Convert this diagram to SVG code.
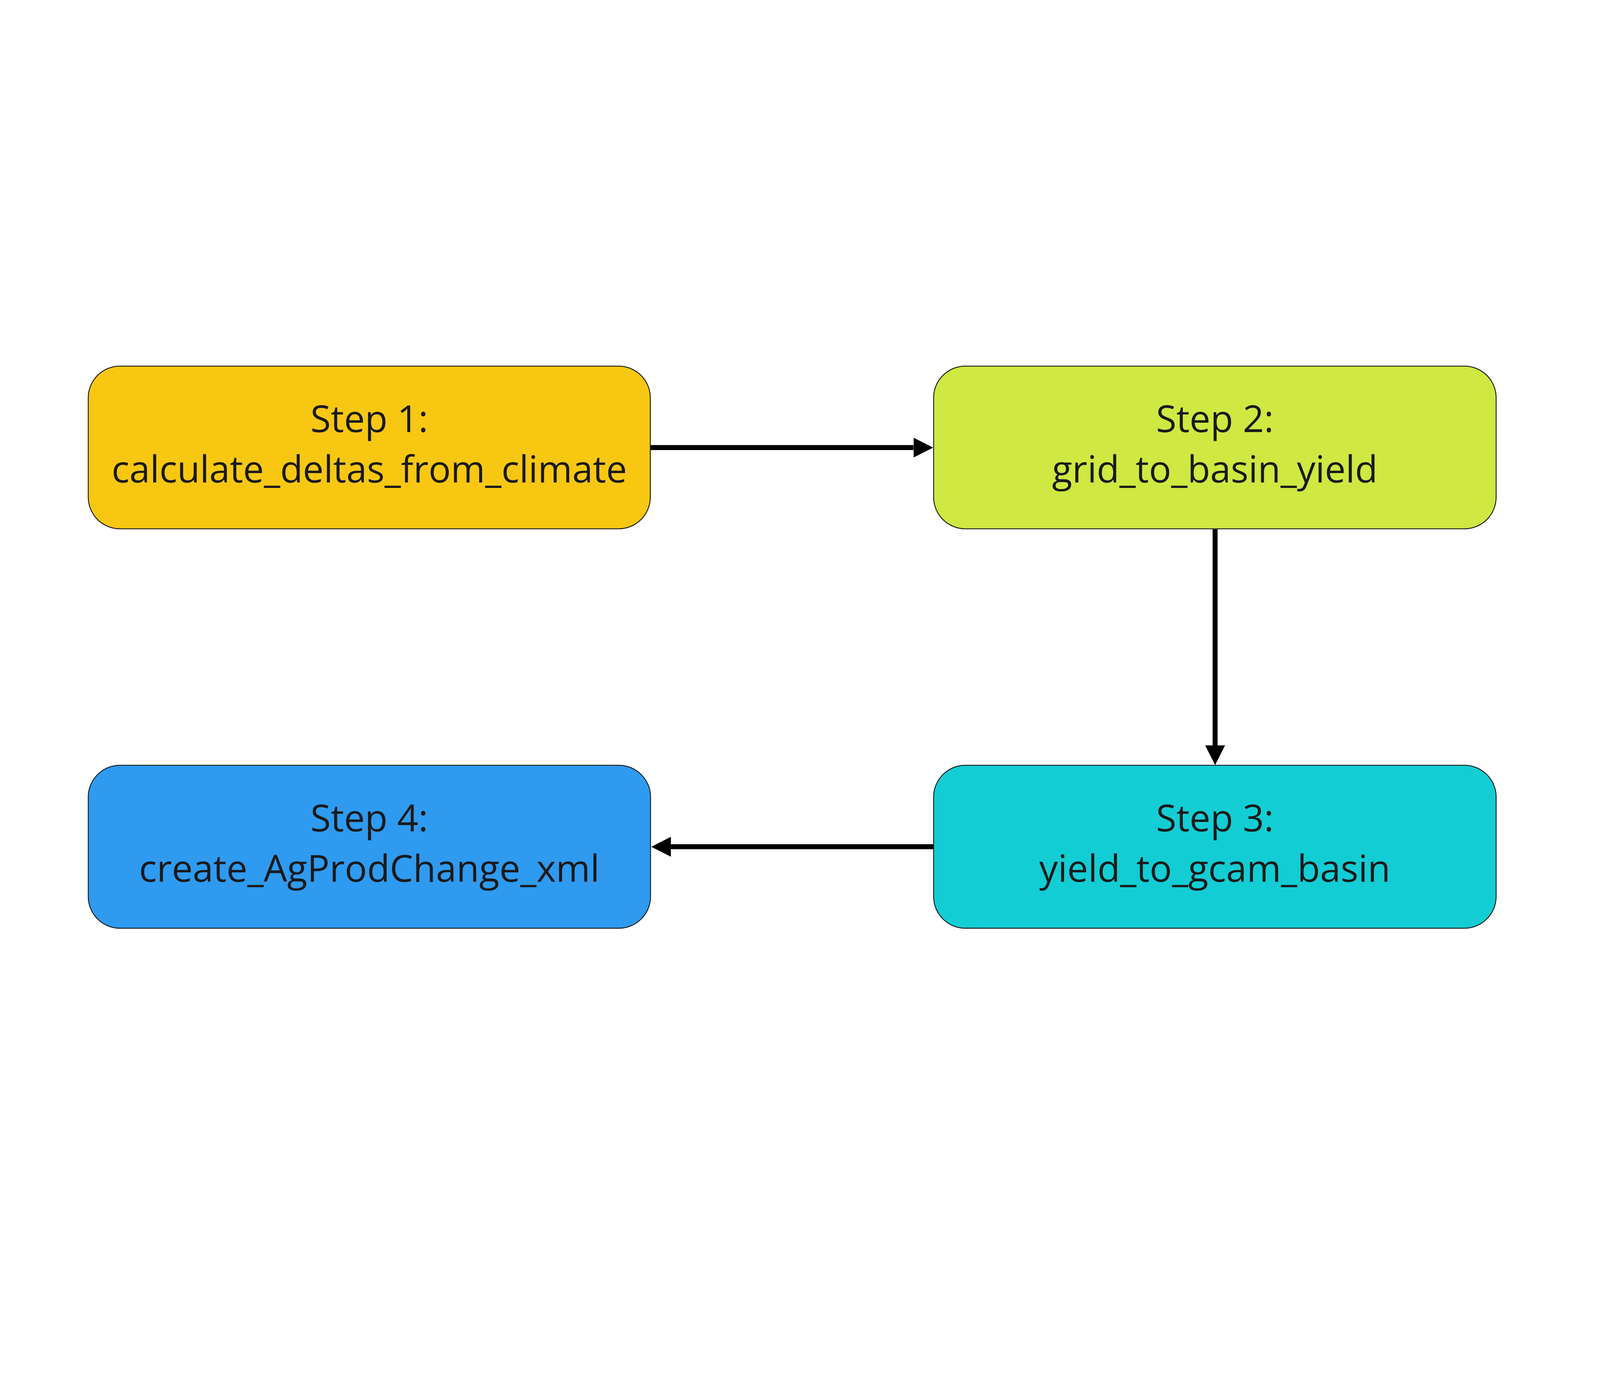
<svg xmlns="http://www.w3.org/2000/svg" width="7071" height="3535" viewBox="0 0 7071 3535">
  <defs>
    <style>
      svg:root { width: 100vw; height: 100vh; }
      .box { stroke: #1a1a1a; stroke-width: 4; }
      .lbl { font-family: "Open Sans", "Noto Sans", sans-serif; font-size: 164px; fill: #1a1a1a; text-anchor: middle; }
      .conn { stroke: #000; stroke-width: 22; fill: none; }
    </style>
    <marker id="arrow" markerUnits="userSpaceOnUse" markerWidth="88" markerHeight="90" refX="0" refY="44" orient="auto" viewBox="0 0 88 88">
      <path d="M0,0 L87,44 L0,88 Z" fill="#000"/>
    </marker>
  </defs>
  <rect width="7071" height="3535" fill="#ffffff"/>

  <g id="connectors">
    <line class="conn" x1="2876" y1="694" x2="4037" y2="694" marker-end="url(#arrow)"/>
    <line class="conn" x1="5370" y1="1055" x2="5370" y2="2010" marker-end="url(#arrow)"/>
    <line class="conn" x1="4124" y1="2458" x2="2965" y2="2458" marker-end="url(#arrow)"/>
  </g>

  <g id="step1">
    <rect class="box" x="390" y="334" width="2484" height="719" rx="140" ry="140" fill="#F8C712"/>
    <text class="lbl" x="1632" y="626">Step 1:</text>
    <text class="lbl" x="1632" y="849">calculate_deltas_from_climate</text>
  </g>

  <g id="step2">
    <rect class="box" x="4126" y="334" width="2486" height="719" rx="140" ry="140" fill="#CFE842"/>
    <text class="lbl" x="5369" y="626">Step 2:</text>
    <text class="lbl" x="5369" y="849">grid_to_basin_yield</text>
  </g>

  <g id="step3">
    <rect class="box" x="4126" y="2098" width="2486" height="720" rx="140" ry="140" fill="#13CDD4"/>
    <text class="lbl" x="5369" y="2390">Step 3:</text>
    <text class="lbl" x="5369" y="2613">yield_to_gcam_basin</text>
  </g>

  <g id="step4">
    <rect class="box" x="390" y="2098" width="2485" height="720" rx="140" ry="140" fill="#2E9AF0"/>
    <text class="lbl" x="1632" y="2390">Step 4:</text>
    <text class="lbl" x="1632" y="2613">create_AgProdChange_xml</text>
  </g>
</svg>
